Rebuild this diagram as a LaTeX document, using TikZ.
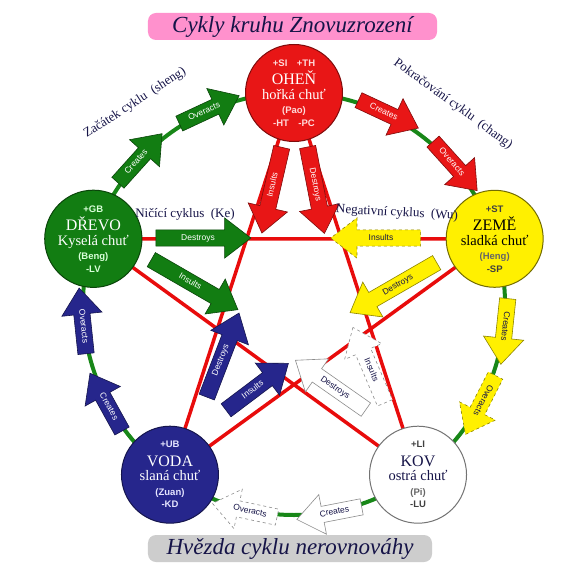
\documentclass[tikz,border=0pt]{standalone}
\usepackage{fontspec}
\setmainfont{Liberation Serif}
\setsansfont{Liberation Sans}
\usepackage{xcolor}
\usepackage{tikz}
\usetikzlibrary{shapes.arrows,backgrounds}

\definecolor{wdgreen}{RGB}{18,125,18}
\definecolor{firered}{RGB}{232,22,22}
\definecolor{erthyel}{RGB}{255,240,0}
\definecolor{wtrblue}{RGB}{38,38,140}
\definecolor{ringgreen}{RGB}{24,135,24}
\definecolor{starred}{RGB}{232,12,12}
\definecolor{inkdark}{RGB}{22,20,72}
\definecolor{titlepink}{RGB}{255,145,205}
\definecolor{footgray}{RGB}{205,205,205}

\newcommand{\codes}[2]{{\color{#1}\sffamily\bfseries\fontsize{9.5}{10}\selectfont #2}}
\newcommand{\elname}[1]{{\fontsize{16}{16}\selectfont #1}}
\newcommand{\taste}[1]{{\fontsize{14.5}{14}\selectfont #1}}

\tikzset{
	elem/.style={circle,minimum size=97pt,inner sep=0pt,align=center,line width=1pt,font=\fontsize{8}{14.5}\selectfont},
	blk/.style={single arrow,draw=#1!55!black,fill=#1,line width=0.6pt,minimum height=66pt,
		single arrow head extend=12pt,single arrow tip angle=75,inner xsep=2pt,inner ysep=3.8pt,
		text height=6.2pt,text depth=1.9pt,font=\sffamily\fontsize{8.5}{9}\selectfont},
	back/.style={shape border rotate=180},
	lbl/.style={text=inkdark,font=\fontsize{13}{13}\selectfont,inner sep=1pt},
	banner/.style={rounded corners=8pt,minimum height=27pt,text=inkdark,inner sep=0pt,
		font=\itshape\fontsize{23}{23}\selectfont}
}

\begin{document}
\begin{tikzpicture}[x=1pt,y=1pt]
	\useasboundingbox (-294,-269) rectangle (294,304);
	% elements
	\node[elem,fill=firered,draw=firered!55!black,text=white] (fire) at (90:211)
		{\codes{red!15!white}{+SI\quad +TH}\\[4pt]\elname{OHEŇ}\\\taste{hořká chuť}\\\codes{red!15!white}{(Pao)}\\[-2pt]\codes{red!15!white}{-HT\quad -PC}};
	\node[elem,fill=wdgreen,draw=wdgreen!55!black,text=white] (wood) at (162:211)
		{\codes{green!15!white}{+GB}\\[4pt]\elname{DŘEVO}\\\taste{Kyselá chuť}\\\codes{green!15!white}{(Beng)}\\[-2pt]\codes{green!15!white}{-LV}};
	\node[elem,fill=erthyel,draw=erthyel!45!black,text=black] (earth) at (18:211)
		{\codes{black!75}{+ST}\\[4pt]\elname{ZEMĚ}\\\taste{sladká chuť}\\\codes{black!60}{(Heng)}\\[-2pt]\codes{black!75}{-SP}};
	\node[elem,fill=wtrblue,draw=wtrblue!55!black,text=white] (water) at (234:211)
		{\codes{blue!10!white}{+UB}\\[4pt]\elname{VODA}\\\taste{slaná chuť}\\\codes{blue!10!white}{(Zuan)}\\[-2pt]\codes{blue!10!white}{-KD}};
	\node[elem,fill=white,draw=black!55,text=inkdark] (metal) at (306:211)
		{\codes{black!75}{+LI}\\[4pt]\elname{KOV}\\\taste{ostrá chuť}\\\codes{black!60}{(Pi)}\\[-2pt]\codes{black!75}{-LU}};

	\begin{scope}[on background layer]
		\fill[white] (-294,-269) rectangle (294,304);
		\draw[ringgreen,line width=4pt] (0,0) circle (211);
		\draw[starred,line width=3.5pt] (fire.center) -- (water.center) -- (earth.center) -- (wood.center) -- (metal.center) -- cycle;
	\end{scope}

	% sheng / chang cycle
	\node[blk=wdgreen,text=white,rotate=48] (wcre) at (138:212) {Creates};
	\node[blk=wdgreen,text=white,rotate=25] (wove) at (115:212) {Overacts};
	\node[blk=firered,text=white,rotate=-25] (fcre) at (65:212) {Creates};
	\node[blk=firered,text=white,rotate=-48] (fove) at (42:212) {Overacts};
	\node[blk=erthyel,text=inkdark,rotate=-96] (ecre) at (-6:212) {Creates};
	\node[blk=erthyel,text=inkdark,dashed,rotate=-117] (eove) at (-27:212) {Overacts};
	\node[blk=white,text=inkdark,back,rotate=11] (mcre) at (-79:212) {Creates};
	\node[blk=white,text=inkdark,back,dashed,rotate=-12] (move) at (-102:212) {Overacts};
	\node[blk=wtrblue,text=white,back,rotate=-61] (vcre) at (209:212) {Creates};
	\node[blk=wtrblue,text=white,back,rotate=-84] (vove) at (186:212) {Overacts};

	% ke / wu cycle
	\node[blk=wdgreen,text=white,minimum height=95pt] (wdes) at (-96,66) {Destroys};
	\node[blk=wdgreen,text=white,minimum height=100pt,rotate=-30] (wins) at (-104,22) {Insults};
	\node[blk=firered,text=white,minimum height=88pt,back,rotate=77] (fins) at (-21,119) {Insults};
	\node[blk=firered,text=white,minimum height=88pt,rotate=-79] (fdes) at (21,119) {Destroys};
	\node[blk=erthyel,text=inkdark,dashed,back,minimum height=90pt] (eins) at (87,66) {Insults};
	\node[blk=erthyel,text=inkdark,back,minimum height=100pt,rotate=30] (edes) at (104,19) {Destroys};
	\node[blk=wtrblue,text=white,minimum height=90pt,rotate=69] (vdes) at (-73,-56) {Destroys};
	\node[blk=wtrblue,text=white,minimum height=78pt,rotate=37] (vins) at (-41,-86) {Insults};
	\node[blk=white,text=inkdark,back,minimum height=86pt,rotate=-35] (mdes) at (41,-84) {Destroys};
	\node[blk=white,text=inkdark,back,dashed,minimum height=82pt,rotate=-67] (mins) at (77,-66) {Insults};

	% labels
	\node[lbl,rotate=33] (sheng) at (-159,201) {Začátek cyklu\ \ (sheng)};
	\node[lbl,rotate=-36] (chang) at (159,200) {Pokračování cyklu\ \ (chang)};
	\node[lbl] (ke) at (-109,90) {Ničící cyklus\ \ (Ke)};
	\node[lbl,rotate=-3] (wu) at (103,91) {Negativní cyklus\ \ (Wu)};

	\node[banner,fill=titlepink,minimum width=289pt] (title) at (-1.5,277.5) {Cykly kruhu Znovuzrození};
	\node[banner,fill=footgray,minimum width=284pt] (foot) at (-4,-244.5) {Hvězda cyklu nerovnováhy};
\end{tikzpicture}
\end{document}
